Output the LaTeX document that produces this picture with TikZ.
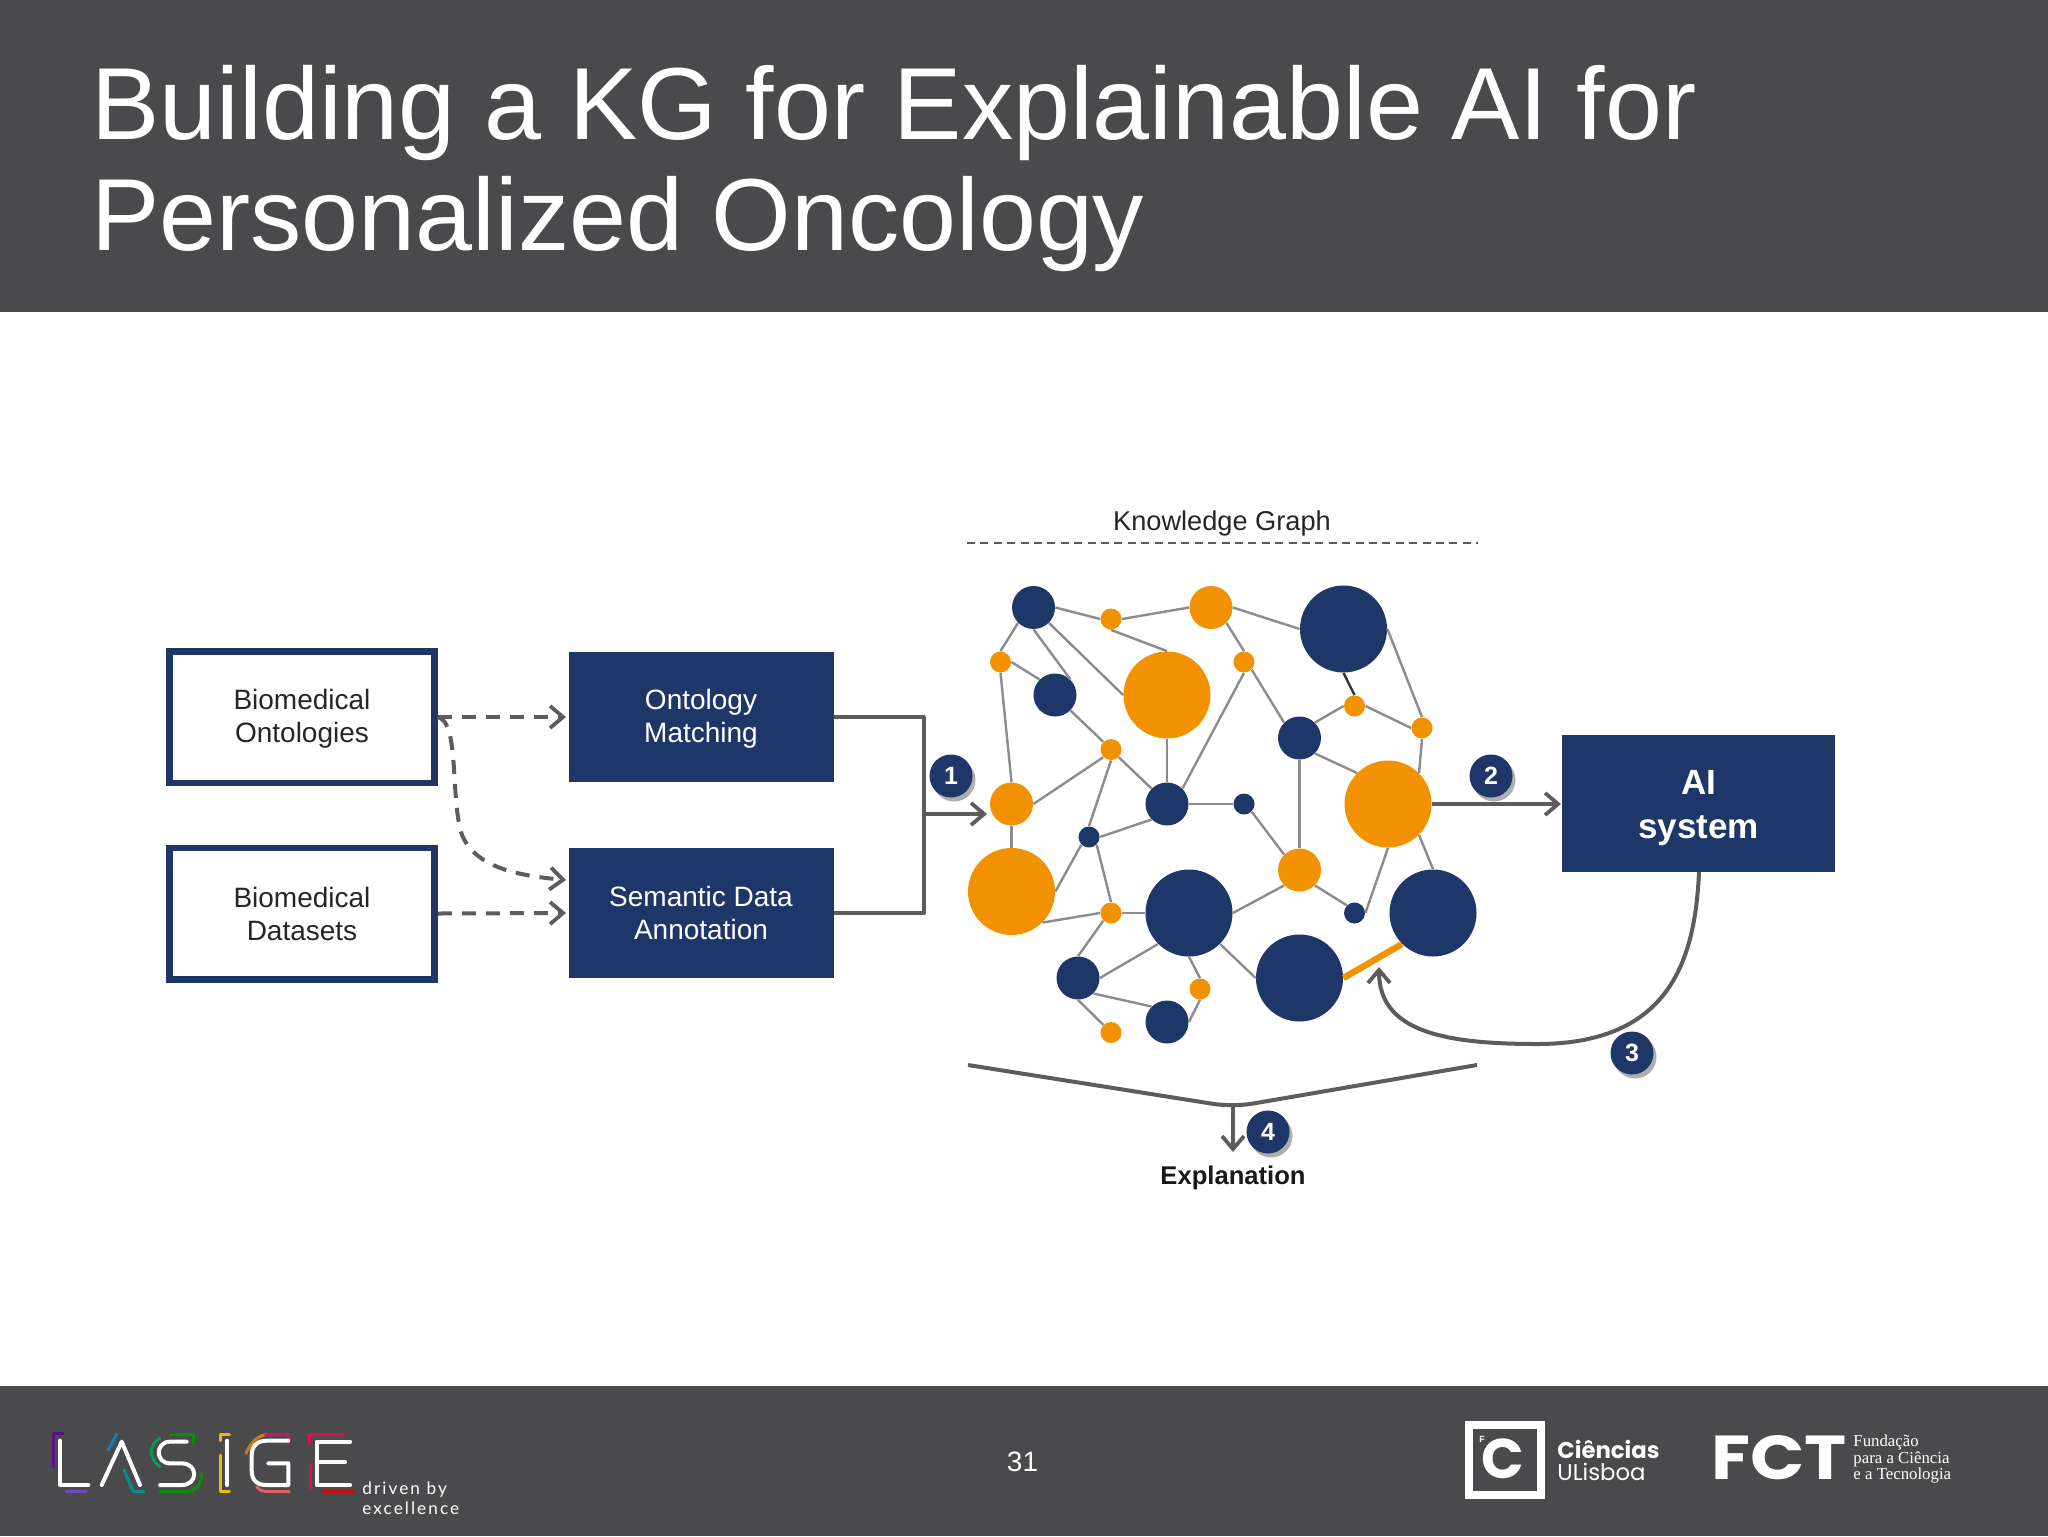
\documentclass[tikz,border=0pt]{standalone}
\usepackage{fontspec}
\setmainfont{Liberation Sans}
\newfontfamily\popf{Poppins}
\newfontfamily\latof[LetterSpace=12]{Lato}
\newfontfamily\serf{Liberation Serif}
\usetikzlibrary{arrows.meta,shadows}
\definecolor{bar}{HTML}{4A4A4C}
\definecolor{navy}{HTML}{1F3768}
\definecolor{orng}{HTML}{F39200}
\definecolor{edgeg}{HTML}{8C8C8C}
\definecolor{conn}{HTML}{5C5C5C}
\tikzset{
  bign/.style={circle,inner sep=0pt,minimum size=43.5pt,fill=#1},
  medn/.style={circle,inner sep=0pt,minimum size=21.5pt,fill=#1},
  smln/.style={circle,inner sep=0pt,minimum size=10.5pt,fill=#1},
  lnk/.style={draw=edgeg,line width=1.2pt},
  lightbox/.style={draw=navy,line width=3.25pt,fill=white,minimum width=132.5pt,minimum height=65.75pt,align=center,font=\fontsize{14}{16.5}\selectfont,text=black!85},
  darkbox/.style={fill=navy,minimum width=132.5pt,minimum height=65pt,inner sep=0pt,align=center,font=\fontsize{14}{16.5}\selectfont,text=white},
  badge/.style={circle,inner sep=0pt,minimum size=21.5pt,fill=navy,text=white,font=\fontsize{12.5}{14}\selectfont\bfseries,drop shadow={shadow xshift=1.5pt,shadow yshift=-2pt,fill=black!45,opacity=.7}},
  flow/.style={draw=conn,line width=2pt},
  tipx/.style={-{Straight Barb[length=6.5pt,width=11pt,line width=1.9pt]}},
  dashl/.style={draw=conn,line width=2pt,dash pattern=on 7pt off 5pt},
  white stroke/.style={draw=white,line width=2pt,line cap=round,line join=round},
  frag/.style={draw=#1,line width=1.5pt,line cap=round,line join=round,opacity=.85},
}
\begin{document}
\begin{tikzpicture}[x=.5pt,y=-.5pt]
\useasboundingbox (0,0) rectangle (2048,1536);
\fill[white] (0,0) rectangle (2048,1536);
\fill[bar] (0,0) rectangle (2048,312);
\fill[bar] (0,1386) rectangle (2048,1536);
\node[anchor=west,align=left,text=white,inner sep=0pt,font=\fontsize{51.2}{55.5}\selectfont] (title) at (91,169) {Building a KG for Explainable AI for\\Personalized Oncology};

% left boxes
\node[lightbox] (bo) at (302,717) {\rule{0pt}{12pt}Biomedical\\Ontologies};
\node[lightbox] (bd) at (302,913.5) {Biomedical\\Datasets};
\node[darkbox] (om) at (701,717) {\rule{0pt}{12pt}Ontology\\Matching};
\node[darkbox] (sd) at (701,913) {Semantic Data\\Annotation};
\coordinate (sdtop) at (566,880);
\coordinate (sdmid) at (566,913);
\coordinate (omin) at (566,717);
\coordinate (bus1) at (923.5,717);
\coordinate (bus2) at (923.5,913);
\coordinate (busm) at (923.5,814);
\draw[dashl,tipx] (bo.east) -- (omin);
\draw[dashl,tipx] (bd.east) -- (sdmid);
\draw[dashl,tipx] (bo.east) .. controls (460,722) and (450,800) .. (462,835) .. controls (475,865) and (510,875) .. (sdtop);

% graph nodes
\node[medn=navy] (n1) at (1033.5,607.5) {};
\node[smln=orng] (n2) at (1111,619) {};
\node[medn=orng] (n3) at (1211,607.5) {};
\node[bign=navy] (n4) at (1343.5,629) {};
\node[smln=orng] (n5) at (1000.5,662) {};
\node[medn=navy] (n6) at (1055,695) {};
\node[bign=orng] (n7) at (1167,695) {};
\node[smln=orng] (n8) at (1244,662) {};
\node[smln=orng] (n9) at (1354.5,706) {};
\node[smln=orng] (n10) at (1422,728) {};
\node[medn=navy] (n11) at (1299.5,738) {};
\node[smln=orng] (n12) at (1111,749.5) {};
\node[medn=orng] (n13) at (1011.5,804) {};
\node[medn=navy] (n14) at (1167,804) {};
\node[smln=navy] (n15) at (1244,804) {};
\node[bign=orng] (n16) at (1388,804) {};
\node[smln=navy] (n17) at (1089,837) {};
\node[bign=orng] (n18) at (1011.5,891.5) {};
\node[medn=orng] (n19) at (1299.5,870) {};
\node[smln=orng] (n20) at (1111,913) {};
\node[bign=navy] (n21) at (1189,913) {};
\node[smln=navy] (n22) at (1354.5,913) {};
\node[bign=navy] (n23) at (1433,913) {};
\node[medn=navy] (n24) at (1078,978) {};
\node[bign=navy] (n25) at (1299.5,978) {};
\node[smln=orng] (n26) at (1200,989) {};
\node[medn=navy] (n27) at (1167,1022) {};
\node[smln=orng] (n28) at (1111,1032.5) {};
\foreach \a/\b in {n1.east/n2.west,n2.east/n3.west,n3.east/n4.west,n1.south west/n5.north,n1.south/n6.north east,n1.south east/n7.west,n2.south/n7.north,n5.east/n6.north west,n5.south/n13.north,n6.south east/n12.north west,n7.south/n14.north,n3.south east/n8.north,n8.south/n14.north east,n8.south east/n11.north west,n4.east/n10.north,n9.west/n11.north east,n9.east/n10.west,n10.south/n16.north east,n11.south east/n16.north west,n11.south/n19.north,n12.south west/n13.east,n12.south east/n14.north west,n12.south/n17.north,n17.south west/n18.east,n17.east/n14.south west,n17.south east/n20.north,n13.south/n18.north,n14.east/n15.west,n15.south east/n19.north west,n16.south/n22.east,n16.south east/n23.north,n18.south east/n20.west,n20.east/n21.west,n20.south west/n24.north,n19.south west/n21.east,n19.south east/n22.north west,n21.south west/n24.east,n21.south east/n25.west,n21.south/n26.north,n24.south east/n27.north west,n24.south/n28.north west,n26.south/n27.east}
  \draw[lnk] (\a) -- (\b);
\draw[draw=black!80,line width=1.2pt] (n4.south) -- (n9.north);
\draw[draw=orng,line width=3.2pt] (n25.east) -- (n23.south west);

% knowledge graph heading
\node[font=\fontsize{13.6}{16}\selectfont,text=black!85] (kg) at (1222,523.5) {Knowledge Graph};
\coordinate (dl) at (967,542.5);
\coordinate (dr) at (1478,542.5);
\draw[draw=conn,line width=1pt,dash pattern=on 4pt off 2.7pt] (dl) -- (dr);

% bus
\draw[flow,line join=round] (om.east) -- (bus1) -- (bus2) -- (sd.east);
\coordinate (n13in) at (987,814);
\draw[flow,tipx] (busm) -- (n13in);
\node[badge] (b1) at (951,776) {1};

% AI system
\node[fill=navy,minimum width=136.5pt,minimum height=68.5pt,inner sep=0pt,align=center,text=white,font=\fontsize{17.5}{22}\selectfont\bfseries] (ai) at (1698.5,803.5) {\rule{0pt}{16.8pt}AI\\system};
\coordinate (aiin) at (1561,804);
\draw[flow,tipx] (n16.east) -- (aiin);
\node[badge] (b2) at (1491,776) {2};
\coordinate (ret) at (1379,967);
\coordinate (ret0) at (1699,872);
\draw[flow,tipx] (ret0) .. controls (1695,960) and (1670,1044) .. (1537,1044) .. controls (1440,1044) and (1379,1030) .. (ret);
\node[badge] (b3) at (1632,1053) {3};

% explanation
\coordinate (br1) at (968,1065);
\coordinate (br2) at (1233,1107);
\coordinate (br3) at (1477,1065);
\coordinate (exin) at (1233,1152);
\draw[flow,rounded corners=10pt] (br1) -- (br2) -- (br3);
\draw[draw=conn,line width=1.6pt,tipx] (br2) -- (exin);
\node[badge] (b4) at (1268,1132) {4};
\node[font=\fontsize{12.8}{16}\selectfont\bfseries,text=black!90] (ex) at (1233,1178) {Explanation};

% footer
\node[text=white,font=\fontsize{14}{16}\selectfont] (pg) at (1022.5,1462) {31};

% LASIGE logo
\begin{scope}[shift={(0,1400)},x=.1667pt,y=-.1667pt]
\draw[frag=violet!80!blue] (190,100) -- (160,100) -- (160,200);
\draw[frag=blue!55!violet!70] (198,275) -- (258,275);
\draw[frag=cyan!70!blue] (325,150) -- (350,102);
\draw[frag=teal!80!cyan] (372,210) -- (400,275) -- (432,275);
\draw[frag=teal!70!green] (480,200) .. controls (440,170) and (450,130) .. (480,115);
\draw[frag=green!60!black] (512,102) -- (580,102) -- (580,130);
\draw[frag=green!60!black] (480,275) -- (560,275) .. controls (590,272) and (605,250) .. (605,220);
\draw[frag=yellow!70!orange] (662,122) -- (662,102) -- (688,102);
\draw[frag=yellow!70!orange] (660,165) -- (660,275) -- (688,275);
\draw[frag=orange!70!brown] (738,160) .. controls (750,130) and (770,110) .. (795,104);
\draw[frag=magenta!70!red] (795,102) -- (865,102) -- (865,130);
\draw[frag=red!50!pink] (770,260) .. controls (780,272) and (790,275) .. (800,275) -- (868,275);
\draw[frag=red!70!magenta] (928,130) -- (928,102) -- (1030,102);
\draw[frag=red!70!magenta] (930,195) -- (930,265);
\draw[frag=red!90!black] (968,275) -- (1060,275);
\draw[white stroke] (180,122) -- (180,255) -- (265,255);
\draw[white stroke] (305,255) -- (365,125) -- (420,255);
\draw[white stroke] (560,125) -- (510,125) .. controls (465,125) and (465,190) .. (510,190) -- (545,190) .. controls (595,190) and (595,255) .. (545,255) -- (480,255);
\draw[white stroke] (682,122) -- (682,255);
\draw[white stroke] (865,122) -- (800,122) .. controls (770,122) and (755,140) .. (755,165) -- (755,212) .. controls (755,240) and (770,255) .. (800,255) -- (865,255) -- (865,190) -- (805,190);
\draw[white stroke] (1050,125) -- (950,125) -- (950,255) -- (1050,255);
\draw[white stroke] (950,187) -- (1035,187);
\end{scope}
\node[anchor=west,align=left,inner sep=0pt,text=white,font=\latof\fontsize{8.6}{10}\selectfont] (drv) at (362,1498) {driven by\\excellence};

% Ciencias logo
\draw[white,line width=4pt] (1469,1424.5) rectangle (1540.5,1494.5);
\node[text=white,inner sep=0pt,font=\popf\bfseries\fontsize{28}{30}\selectfont] (cc) at (1503,1459) {C};
\node[text=white,inner sep=0pt,font=\fontsize{4.5}{5}\selectfont\bfseries] (ff) at (1482,1439) {F};
\node[anchor=west,inner sep=0pt,text=white,font=\popf\bfseries\fontsize{11.4}{12}\selectfont] (cien) at (1557,1449) {Ciências};
\node[anchor=west,inner sep=0pt,text=white,font=\popf\fontsize{11.4}{12}\selectfont] (ulis) at (1557,1472) {ULisboa};

% FCT logo
\node[anchor=west,inner sep=0pt,text=white,font=\popf\bfseries\fontsize{31}{32}\selectfont] (fct) at (1711,1458) {\scalebox{1.15}[1]{FCT}};
\node[anchor=west,align=left,inner sep=0pt,text=white,font=\serf\fontsize{8.4}{8.2}\selectfont] (fund) at (1853,1459) {Fundação\\para a Ciência\\e a Tecnologia};
\end{tikzpicture}
\end{document}
